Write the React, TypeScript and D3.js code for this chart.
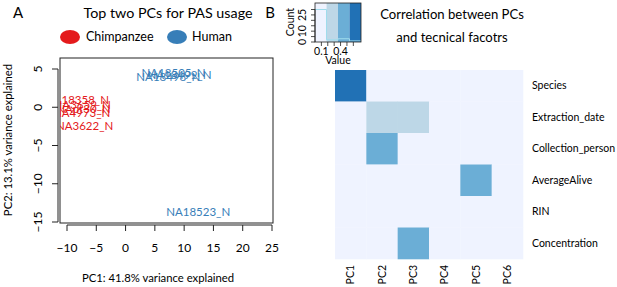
import React from "react";
import * as d3 from "d3";

// ---------- Panel A data ----------
const chimpLabels = ["NA18358_N", "NA3659_N", "NApt30_N", "NA4973_N", "NA3622_N"];
const chimpPC1 = [-8.3, -7.4, -7.2, -7.5, -7.0];
const chimpPC2 = [0.9, 0.3, -0.2, -0.8, -2.5];
const humanLabels = ["NA18505_N", "NA18499_N", "NA18498_N", "NA18523_N"];
const humanPC1 = [8.2, 9.2, 7.3, 12.4];
const humanPC2 = [4.5, 4.2, 3.9, -13.7];
const xTicks = [-10, -5, 0, 5, 10, 15, 20, 25];
const yTicks = [-15, -10, -5, 0, 5];

// ---------- Panel B data ----------
const pcs = ["PC1", "PC2", "PC3", "PC4", "PC5", "PC6"];
const factors = ["Species", "Extraction_date", "Collection_person", "AverageAlive", "RIN", "Concentration"];
const corSpecies = [0.65, 0.05, 0.05, 0.05, 0.05, 0.05];
const corExtraction = [0.05, 0.3, 0.3, 0.05, 0.05, 0.05];
const corCollection = [0.05, 0.45, 0.05, 0.05, 0.05, 0.05];
const corAlive = [0.05, 0.05, 0.05, 0.05, 0.45, 0.05];
const corRIN = [0.05, 0.05, 0.05, 0.05, 0.05, 0.05];
const corConc = [0.05, 0.05, 0.45, 0.05, 0.05, 0.05];
const keyBreaks = [0, 0.18, 0.36, 0.54, 0.72];
const keyColors = ["#EFF3FF", "#BDD7E7", "#6BAED6", "#2171B5"];
const keyTicks = [0.1, 0.2, 0.3, 0.4, 0.5, 0.6];
const keyTickLabels = [0.1, 0.4];
const countTicks = [0, 5, 10, 15, 20, 25, 30];
const countTickLabels = [0, 10, 25];

const FONT = "Lato, 'Open Sans', sans-serif";
const RED = "#E41A1C";
const BLUE = "#377EB8";

export default function App() {
  // Panel A scales
  const x = d3.scaleLinear().domain([-10, 25]).range([67, 272]);
  const y = d3.scaleLinear().domain([-15, 5]).range([222, 69]);
  const box = { x0: 60, x1: 273, y0: 58, y1: 223 };

  // Panel B scales
  const hx = d3.scaleBand().domain(pcs).range([335, 523]);
  const hy = d3.scaleBand().domain(factors).range([70, 259]);
  const rows = [corSpecies, corExtraction, corCollection, corAlive, corRIN, corConc];
  const color = d3.scaleThreshold<number, string>().domain(keyBreaks.slice(1, -1)).range(keyColors);
  const kx = d3.scaleLinear().domain([0, 0.72]).range([315, 361]);
  const ky = d3.scaleLinear().domain([0, 36]).range([42, 3]);
  const allVals = rows.flat();
  const counts = keyColors.map((_, i) =>
    allVals.filter(v => v >= keyBreaks[i] && v < keyBreaks[i + 1]).length
  );
  const histPts: [number, number][] = [];
  counts.forEach((c, i) => {
    histPts.push([kx(keyBreaks[i]), ky(c)]);
    histPts.push([kx(keyBreaks[i + 1]), ky(c)]);
  });
  const histLine = d3.line()(histPts) || "";
  const fmt = (t: number) => (t < 0 ? "\u2212" + Math.abs(t) : String(t));

  return (
    <svg width={617} height={287} style={{ position: "fixed", left: 0, top: 0, background: "#fff" }} fontFamily={FONT}>
      <defs>
        <clipPath id="plotclip">
          <rect x={box.x0} y={box.y0} width={box.x1 - box.x0} height={box.y1 - box.y0} />
        </clipPath>
      </defs>
      {/* Panel A */}
      <text x={18} y={18} fontSize={15} textAnchor="middle">A</text>
      <text x={168} y={18} fontSize={14.3} textAnchor="middle">Top two PCs for PAS usage</text>
      <ellipse cx={70} cy={37} rx={10} ry={7} fill={RED} />
      <text x={86} y={41} fontSize={12.5}>Chimpanzee</text>
      <ellipse cx={177} cy={37} rx={10} ry={7} fill={BLUE} />
      <text x={192} y={41} fontSize={12.5}>Human</text>
      <rect x={box.x0} y={box.y0} width={box.x1 - box.x0} height={box.y1 - box.y0} fill="none" stroke="#222" strokeWidth={1} />
      <g clipPath="url(#plotclip)" fontSize={11.5} textAnchor="middle">
        {chimpLabels.map((l, i) => (
          <text key={l} x={x(chimpPC1[i])} y={y(chimpPC2[i])} dy="0.35em" fill={RED}>{l}</text>
        ))}
        {humanLabels.map((l, i) => (
          <text key={l} x={x(humanPC1[i])} y={y(humanPC2[i])} dy="0.35em" fill={BLUE}>{l}</text>
        ))}
      </g>
      {/* x axis */}
      <line x1={x(-10)} x2={x(25)} y1={225} y2={225} stroke="#222" />
      {xTicks.map(t => (
        <g key={t}>
          <line x1={x(t)} x2={x(t)} y1={225} y2={231} stroke="#222" />
          <text x={x(t)} y={252} fontSize={12} textAnchor="middle">{fmt(t)}</text>
        </g>
      ))}
      <text x={158} y={282} fontSize={11.3} textAnchor="middle">PC1: 41.8% variance explained</text>
      {/* y axis */}
      <line x1={58} x2={58} y1={y(-15)} y2={y(5)} stroke="#222" />
      {yTicks.map(t => (
        <g key={t}>
          <line x1={52} x2={58} y1={y(t)} y2={y(t)} stroke="#222" />
          <text transform={`translate(42,${y(t)}) rotate(-90)`} fontSize={12} textAnchor="middle">{fmt(t)}</text>
        </g>
      ))}
      <text transform={`translate(12,140) rotate(-90)`} fontSize={11.3} textAnchor="middle">PC2: 13.1% variance explained</text>

      {/* Panel B */}
      <text x={270} y={18} fontSize={15} textAnchor="middle">B</text>
      {/* color key */}
      {keyColors.map((c, i) => (
        <rect key={c} x={kx(keyBreaks[i])} y={ky(36)} width={kx(keyBreaks[i + 1]) - kx(keyBreaks[i])} height={ky(0) - ky(36)} fill={c} />
      ))}
      <path d={histLine} fill="none" stroke="#9fdcec" strokeWidth={1} />
      <rect x={kx(0)} y={ky(36)} width={kx(0.72) - kx(0)} height={ky(0) - ky(36)} fill="none" stroke="#222" strokeWidth={0.8} />
      {keyTicks.map(t => (
        <line key={t} x1={kx(t)} x2={kx(t)} y1={42} y2={46} stroke="#222" strokeWidth={0.8} />
      ))}
      {keyTickLabels.map(t => (
        <text key={t} x={kx(t)} y={55} fontSize={10.5} textAnchor="middle">{t}</text>
      ))}
      <text x={338} y={64} fontSize={10.5} textAnchor="middle">Value</text>
      {countTicks.map(t => (
        <line key={t} x1={311} x2={315} y1={ky(t)} y2={ky(t)} stroke="#222" strokeWidth={0.8} />
      ))}
      <line x1={315} x2={315} y1={ky(0)} y2={ky(30)} stroke="#222" strokeWidth={0.8} />
      {countTickLabels.map(t => (
        <text key={t} transform={`translate(306,${ky(t)}) rotate(-90)`} fontSize={10.5} textAnchor="middle">{t}</text>
      ))}
      <text transform={`translate(294,22) rotate(-90)`} fontSize={10.5} textAnchor="middle">Count</text>
      <text x={452} y={19} fontSize={13.1} textAnchor="middle">Correlation between PCs</text>
      <text x={452} y={42} fontSize={13.1} textAnchor="middle">and tecnical facotrs</text>
      {/* heatmap */}
      {rows.map((r, ri) =>
        r.map((v, ci) => (
          <rect key={`${ri}-${ci}`} x={hx(pcs[ci])} y={hy(factors[ri])} width={hx.bandwidth() + 0.3} height={hy.bandwidth() + 0.3} fill={color(v)} />
        ))
      )}
      {factors.map(f => (
        <text key={f} x={532} y={(hy(f) || 0) + hy.bandwidth() / 2} dy="0.35em" fontSize={10.5}>{f}</text>
      ))}
      {pcs.map(p => (
        <text key={p} transform={`translate(${(hx(p) || 0) + hx.bandwidth() / 2},265) rotate(-90)`} dy="0.35em" fontSize={10.5} textAnchor="end">{p}</text>
      ))}
    </svg>
  );
}
